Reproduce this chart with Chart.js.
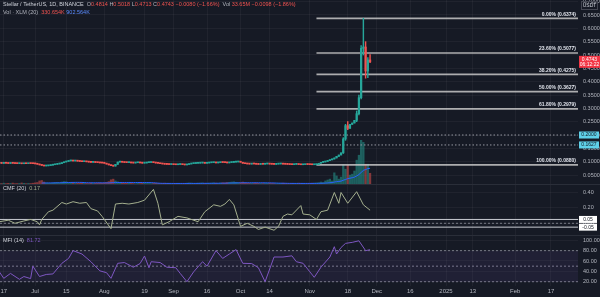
<!DOCTYPE html>
<html>
<head>
<meta charset="utf-8">
<script src="https://cdn.jsdelivr.net/npm/chart.js@4/dist/chart.umd.min.js"></script>
<style>
  html, body { margin: 0; padding: 0; background: #161a25; }
  #wrap { position: relative; width: 600px; height: 297px; overflow: hidden; background: #161a25; }
  canvas { position: absolute; left: 0; }
  #priceCanvas { top: 0; }
  #cmfCanvas { top: 185px; }
  #mfiCanvas { top: 235px; }
  .sep { position: absolute; left: 0; width: 600px; height: 1px; background: #2a2e39; }
</style>
</head>
<body>
<div id="wrap">
  <canvas id="priceCanvas" width="600" height="185"></canvas>
  <canvas id="cmfCanvas" width="600" height="50"></canvas>
  <canvas id="mfiCanvas" width="600" height="62"></canvas>
  <div class="sep" style="top:184px"></div>
  <div class="sep" style="top:235px"></div>
</div>
<script>
// day 0 = 15 Jun 2024, daily candles up to 28 Nov 2024
const tickDays = [2, 16, 30, 47, 65, 78, 93, 108, 121, 139, 156, 169, 184, 200, 212, 231, 247];
const tickLabels = ["17", "Jul", "15", "Aug", "19", "Sep", "16", "Oct", "14", "Nov", "18", "Dec", "16", "2025", "13", "Feb", "17"];

const firstOpen = 0.0940;
const closes = [
  0.0945, 0.0938, 0.0950, 0.0942, 0.0935, 0.0948, 0.0940, 0.0932, 0.0928, 0.0935, 0.0923, 0.0930, 0.0925, 0.0938, 0.0930, 0.0926,
  0.0920, 0.0905, 0.0880, 0.0860, 0.0840, 0.0845, 0.0855,
  0.0870, 0.0885, 0.0900, 0.0915, 0.0930, 0.0960, 0.0990, 0.1010, 0.1030, 0.1045, 0.1025, 0.1040,
  0.1020, 0.1010, 0.1000, 0.1015, 0.0995, 0.0985, 0.0975, 0.0990, 0.0970, 0.0965, 0.0955, 0.0950, 0.0940,
  0.0910, 0.0880, 0.0850, 0.0835, 0.0900,
  0.0985, 0.1005, 0.0980, 0.0970, 0.0965, 0.0975, 0.0955, 0.0950,
  0.0960, 0.0970, 0.0955, 0.0945, 0.0950, 0.0965, 0.0970, 0.0980, 0.0965, 0.0950, 0.0940, 0.0925, 0.0915, 0.0905, 0.0900,
  0.0895, 0.0900, 0.0890, 0.0885, 0.0895, 0.0900, 0.0890, 0.0880, 0.0895,
  0.0915, 0.0930, 0.0935, 0.0940, 0.0945, 0.0950, 0.0955, 0.0940, 0.0950, 0.0960, 0.0965, 0.0970, 0.0955, 0.0965, 0.0975, 0.0970, 0.0965, 0.0955, 0.0970, 0.0975,
  0.0985, 0.0990, 0.1000, 0.0980, 0.0940, 0.0925,
  0.0915, 0.0910, 0.0920, 0.0915, 0.0905, 0.0900, 0.0910, 0.0905, 0.0915, 0.0920, 0.0910, 0.0905, 0.0900, 0.0910, 0.0915,
  0.0920, 0.0910, 0.0905, 0.0900, 0.0895, 0.0890, 0.0900, 0.0905, 0.0895, 0.0885, 0.0890, 0.0900, 0.0895, 0.0890,
  0.0885, 0.0890, 0.0895, 0.0940,
  0.0975, 0.0990, 0.1010, 0.1040, 0.1070, 0.1100, 0.1140, 0.1200, 0.1250, 0.1330,
  0.1850, 0.2350, 0.2250, 0.2400, 0.2450, 0.2550, 0.2800, 0.3400, 0.5250, 0.5300, 0.4400, 0.4814, 0.4743
];
// candles whose wicks stick out of the body
const wickDays = [142, 154, 155, 156, 160, 161, 162, 163, 164, 165, 166];
const wickHighs = [0.0905, 0.1900, 0.2400, 0.2500, 0.2900, 0.3500, 0.5350, 0.6374, 0.5500, 0.4900, 0.5018];
const wickLows = [0.0880, 0.1310, 0.1800, 0.2200, 0.2500, 0.2750, 0.3350, 0.5000, 0.4130, 0.4150, 0.4713];

// volume in millions of XLM
const volumes = [
  70, 65, 80, 60, 75, 70, 85, 60, 65, 70, 90, 75, 60, 70, 65, 80,
  95, 110, 180, 200, 130, 90, 85,
  80, 95, 110, 120, 100, 130, 150, 140, 110, 120, 105, 90,
  85, 80, 75, 90, 70, 65, 80, 70, 75, 85, 90, 80, 100,
  120, 150, 230, 260, 180,
  140, 110, 90, 80, 75, 85, 70, 65,
  60, 70, 65, 75, 80, 70, 65, 60, 70, 75, 65, 60, 70, 80, 75,
  70, 65, 60, 75, 70, 65, 60, 70, 80,
  90, 85, 75, 70, 80, 85, 90, 75, 70, 80, 85, 95, 80, 75, 90, 100, 95, 110, 120, 130,
  140, 120, 110, 100, 130, 95,
  85, 80, 75, 70, 80, 75, 70, 65, 70, 75, 80, 70, 65, 60, 70, 75, 80, 70, 65, 60, 75, 70, 65, 80, 75, 70, 65, 70, 75,
  80, 85, 90, 100,
  130, 110, 180, 220, 260, 180, 540, 400, 260, 350,
  880, 700, 880, 440, 480, 620, 1100, 1320, 1980, 1890, 920, 920, 520
];

const fibHigh = 0.6374;
const fibLow = 0.0880;
const fibLevels = [0, 0.236, 0.382, 0.5, 0.618, 1];
const fibStartDay = 142;
const alertLevels = [0.2000, 0.1627];

const cmfDays = [0, 4, 7, 11, 14, 17, 18, 19, 22, 24, 28, 30, 33, 36, 39, 41, 44, 46, 50, 52, 55, 58, 62, 65, 69, 71, 73, 76, 80, 84, 86, 89, 92, 96, 99, 101, 103, 105, 108, 111, 114, 116, 119, 123, 125, 127, 129, 131, 135, 136, 139, 142, 144, 147, 150, 152, 153, 156, 160, 163, 166];
const cmfValues = [0.02, 0.04, 0.00, 0.03, 0.05, 0.02, -0.02, 0.05, 0.15, 0.17, 0.27, 0.25, 0.28, 0.26, 0.27, 0.19, 0.16, 0.09, -0.07, 0.25, 0.26, 0.25, 0.27, 0.30, 0.44, 0.26, -0.02, 0.02, 0.09, 0.07, 0.05, 0.02, 0.15, 0.24, 0.22, 0.25, 0.31, 0.24, -0.04, 0.00, -0.04, -0.08, -0.05, -0.09, -0.04, 0.09, 0.12, 0.11, 0.23, 0.12, 0.11, 0.05, 0.15, 0.17, 0.40, 0.26, 0.40, 0.26, 0.41, 0.24, 0.17];

const mfiDays = [0, 2, 5, 9, 11, 14, 15, 18, 21, 24, 28, 31, 33, 37, 41, 45, 48, 50, 53, 56, 60, 63, 65, 67, 68, 72, 75, 79, 81, 84, 87, 91, 93, 97, 100, 103, 106, 109, 113, 116, 119, 123, 127, 131, 133, 136, 139, 141, 144, 148, 150, 151, 153, 155, 158, 161, 164, 166];
const mfiValues = [39, 26.5, 36, 24.6, 30, 26, 50, 30, 34, 35, 55.5, 65, 80, 73.5, 58.6, 41, 37.4, 26.5, 55.5, 57, 48, 55, 69.6, 47, 58.6, 57, 48, 47, 36, 20, 39, 58.6, 50, 80, 65, 73.5, 82, 55.5, 55, 47, 20, 67.7, 67.7, 70, 58.6, 55.5, 39.3, 28.5, 48, 67.7, 87.6, 73.5, 86, 94, 96, 99, 80, 81.72];

const dayMin = 0.3, dayMax = 259.1;
const fontFam = "'Liberation Sans', Arial, sans-serif";
const textColor = "#b2b5be";
const gridColor = "rgba(255,255,255,0.045)";
const upColor = "#26a69a", downColor = "#ef5350";

const opens = closes.map((c, i) => (i === 0 ? firstOpen : closes[i - 1]));
const highs = closes.map((c, i) => Math.max(c, opens[i]));
const lows = closes.map((c, i) => Math.min(c, opens[i]));
wickDays.forEach((d, k) => { highs[d] = wickHighs[k]; lows[d] = wickLows[k]; });
const candleColors = closes.map((c, i) => (c >= opens[i] ? upColor : downColor));
const volColors = closes.map((c, i) => (c >= opens[i] ? "rgba(38,166,154,0.5)" : "rgba(239,83,80,0.5)"));
const volMa = volumes.map((v, i) => {
  if (i < 19) return null;
  let s = 0;
  for (let k = i - 19; k <= i; k++) s += volumes[k];
  return s / 20;
});
const fibPrices = fibLevels.map(l => fibHigh - l * (fibHigh - fibLow));

function xAxis(showLabels) {
  return {
    type: "linear", min: dayMin, max: dayMax, offset: false,
    grid: { color: gridColor, drawTicks: false, offset: false },
    border: { display: false },
    ticks: {
      display: showLabels, autoSkip: false, maxRotation: 0, padding: 2, color: textColor,
      font: { size: 6, family: fontFam },
      callback: (v) => { const k = tickDays.indexOf(v); return k >= 0 ? tickLabels[k] : ""; }
    },
    afterBuildTicks: (s) => { s.ticks = tickDays.map(v => ({ value: v })); },
    afterFit: (s) => { s.paddingLeft = 0; s.paddingRight = 0; s.height = showLabels ? 11 : 0; }
  };
}

function yAxis(extra) {
  return Object.assign({
    position: "right",
    grid: { color: gridColor, drawTicks: false },
    border: { display: false },
    ticks: { color: textColor, font: { size: 5.5, family: fontFam }, padding: 5, includeBounds: false },
    afterFit: (s) => { s.width = 22; s.paddingTop = 0; s.paddingBottom = 0; }
  }, extra);
}

const baseOptions = {
  responsive: false,
  animation: false,
  layout: { padding: 0 },
  plugins: { legend: { display: false }, tooltip: { enabled: false } }
};

function drawRuns(ctx, x, y, runs) {
  runs.forEach(([text, color]) => {
    ctx.fillStyle = color;
    ctx.fillText(text, x, y);
    x += ctx.measureText(text).width;
  });
}

// texts that TradingView draws over the price pane
const priceNotes = {
  id: "priceNotes",
  afterDraw(chart) {
    const { ctx, scales: { x, y } } = chart;
    ctx.save();
    ctx.textBaseline = "middle";
    ctx.font = `5.5px ${fontFam}`;
    drawRuns(ctx, 3, 4.5, [
      ["Stellar / TetherUS, 1D, BINANCE  ", "#d1d4dc"],
      ["O", textColor], ["0.4814 ", downColor], ["H", textColor], ["0.5018 ", downColor],
      ["L", textColor], ["0.4713 ", downColor], ["C", textColor], ["0.4743 ", downColor],
      ["\u22120.0080 (\u22121.66%)  ", downColor],
      ["Vol ", textColor], ["33.65M ", downColor], ["\u22120.0098 (\u22121.86%)", downColor]
    ]);
    drawRuns(ctx, 3, 12, [
      ["Vol \u00b7 XLM (20)  ", textColor], ["330.654K ", downColor], ["902.564K", "#5b8cff"]
    ]);

    // fib labels
    ctx.font = `bold 5px ${fontFam}`;
    ctx.textAlign = "right";
    ctx.textBaseline = "bottom";
    ctx.fillStyle = "#e0e3eb";
    fibLevels.forEach((l, k) => {
      const py = y.getPixelForValue(fibPrices[k]);
      ctx.fillText(`${(l * 100).toFixed(2)}% (${fibPrices[k].toFixed(4)})`, x.right - 2, py - 1.5);
    });

    // right scale boxes
    ctx.textAlign = "center";
    ctx.textBaseline = "middle";
    ctx.font = `5px ${fontFam}`;
    alertLevels.forEach(v => {
      const py = y.getPixelForValue(v);
      ctx.fillStyle = "#5fd0e8";
      ctx.fillRect(579, py - 3.5, 20, 7);
      ctx.fillStyle = "#131722";
      ctx.fillText(v.toFixed(4), 589, py);
    });
    const last = closes[closes.length - 1];
    const pl = y.getPixelForValue(last);
    ctx.fillStyle = "#f23645";
    ctx.fillRect(579, pl - 6, 21, 12);
    ctx.fillStyle = "#ffffff";
    ctx.fillText(last.toFixed(4), 589.5, pl - 2.5);
    ctx.fillText("06:12:22", 589.5, pl + 3);

    ctx.strokeStyle = "#434651";
    ctx.lineWidth = 1;
    ctx.strokeRect(581.5, 1.5, 16, 8);
    ctx.fillStyle = "#d1d4dc";
    ctx.fillText("USDT", 589.5, 5.8);
    ctx.restore();
  }
};

new Chart(document.getElementById("priceCanvas").getContext("2d"), {
  type: "bar",
  data: {
    datasets: [
      {
        label: "body", order: 0, grouped: false, barThickness: 1.6, minBarLength: 1,
        data: closes.map((c, i) => ({ x: i, y: [opens[i], c] })),
        backgroundColor: candleColors
      },
      {
        label: "wick", order: 1, grouped: false, barThickness: 0.8,
        data: closes.map((c, i) => ({ x: i, y: [lows[i], highs[i]] })),
        backgroundColor: candleColors
      },
      ...fibPrices.map((p, k) => ({
        type: "line", label: "fib " + fibLevels[k], order: 2,
        data: [{ x: fibStartDay, y: p }, { x: dayMax, y: p }],
        borderColor: "rgba(200,200,200,0.85)", borderWidth: 1.6, pointRadius: 0
      })),
      ...alertLevels.map(v => ({
        type: "line", label: "alert " + v, order: 3,
        data: [{ x: dayMin, y: v }, { x: dayMax, y: v }],
        borderColor: "#9598a1", borderWidth: 1, borderDash: [1.5, 2], pointRadius: 0
      })),
      {
        type: "line", label: "Vol MA", order: 4, yAxisID: "yv",
        data: volMa.map((v, i) => ({ x: i, y: v })),
        borderColor: "#2962ff", borderWidth: 1, pointRadius: 0
      },
      {
        label: "Vol", order: 5, grouped: false, yAxisID: "yv", barThickness: 1.6,
        data: volumes.map((v, i) => ({ x: i, y: v })),
        backgroundColor: volColors
      }
    ]
  },
  options: Object.assign({}, baseOptions, {
    scales: {
      x: xAxis(false),
      y: yAxis({ min: 0.0126, max: 0.7062, ticks: { color: textColor, font: { size: 5.5, family: fontFam }, padding: 5, includeBounds: false, stepSize: 0.05, callback: v => v.toFixed(4) } }),
      yv: { display: false, min: 0, max: 8200 }
    }
  }),
  plugins: [priceNotes]
});

const cmfNotes = {
  id: "cmfNotes",
  afterDraw(chart) {
    const { ctx, scales: { y } } = chart;
    ctx.save();
    ctx.textBaseline = "middle";
    ctx.font = `5.5px ${fontFam}`;
    drawRuns(ctx, 3, 3.5, [["CMF (20)  ", "#d1d4dc"], ["0.17", "#a5b08f"]]);
    ctx.textAlign = "center";
    ctx.font = `5px ${fontFam}`;
    [0.05, -0.05].forEach(v => {
      const py = y.getPixelForValue(v);
      ctx.fillStyle = "#ffffff";
      ctx.fillRect(579, py - 3.5, 18, 7);
      ctx.fillStyle = "#131722";
      ctx.fillText(v.toFixed(2), 588, py);
    });
    ctx.restore();
  }
};

new Chart(document.getElementById("cmfCanvas").getContext("2d"), {
  type: "line",
  data: {
    datasets: [
      {
        label: "CMF", data: cmfDays.map((d, i) => ({ x: d, y: cmfValues[i] })),
        borderColor: "#a5b08f", borderWidth: 1, pointRadius: 0, tension: 0
      },
      {
        label: "up", data: [{ x: dayMin, y: 0.05 }, { x: dayMax, y: 0.05 }],
        borderColor: "#c9ccd3", borderWidth: 1, pointRadius: 0
      },
      {
        label: "zero", data: [{ x: dayMin, y: 0 }, { x: dayMax, y: 0 }],
        borderColor: "#787b86", borderWidth: 1, borderDash: [2, 2], pointRadius: 0
      },
      {
        label: "down", data: [{ x: dayMin, y: -0.05 }, { x: dayMax, y: -0.05 }],
        borderColor: "#c9ccd3", borderWidth: 1, pointRadius: 0
      }
    ]
  },
  options: Object.assign({}, baseOptions, {
    scales: {
      x: xAxis(false),
      y: yAxis({
        min: -0.152, max: 0.497,
        afterBuildTicks: (s) => { s.ticks = [0.4, 0.2, 0].map(v => ({ value: v })); },
        ticks: { color: textColor, font: { size: 5.5, family: fontFam }, padding: 5, callback: v => v.toFixed(2) }
      })
    }
  }),
  plugins: [cmfNotes]
});

const mfiNotes = {
  id: "mfiNotes",
  afterDraw(chart) {
    const { ctx } = chart;
    ctx.save();
    ctx.textBaseline = "middle";
    ctx.font = `5.5px ${fontFam}`;
    drawRuns(ctx, 3, 5, [["MFI (14)  ", "#d1d4dc"], ["81.72", "#7e57c2"]]);
    ctx.restore();
  }
};

new Chart(document.getElementById("mfiCanvas").getContext("2d"), {
  type: "line",
  data: {
    datasets: [
      {
        label: "MFI", data: mfiDays.map((d, i) => ({ x: d, y: mfiValues[i] })),
        borderColor: "#7e57c2", borderWidth: 1, pointRadius: 0, tension: 0
      },
      {
        label: "upper", data: [{ x: dayMin, y: 80 }, { x: dayMax, y: 80 }],
        borderColor: "#787b86", borderWidth: 1, borderDash: [2, 2], pointRadius: 0,
        fill: "+2", backgroundColor: "rgba(126,87,194,0.1)"
      },
      {
        label: "middle", data: [{ x: dayMin, y: 50 }, { x: dayMax, y: 50 }],
        borderColor: "#787b86", borderWidth: 1, borderDash: [2, 2], pointRadius: 0
      },
      {
        label: "lower", data: [{ x: dayMin, y: 20 }, { x: dayMax, y: 20 }],
        borderColor: "#787b86", borderWidth: 1, borderDash: [2, 2], pointRadius: 0
      }
    ]
  },
  options: Object.assign({}, baseOptions, {
    scales: {
      x: xAxis(true),
      y: yAxis({
        min: 11.7, max: 110.2,
        afterBuildTicks: (s) => { s.ticks = [100, 80, 60, 40, 20].map(v => ({ value: v })); },
        ticks: { color: textColor, font: { size: 5.5, family: fontFam }, padding: 5, callback: v => v.toFixed(2) }
      })
    }
  }),
  plugins: [mfiNotes]
});
</script>
</body>
</html>
